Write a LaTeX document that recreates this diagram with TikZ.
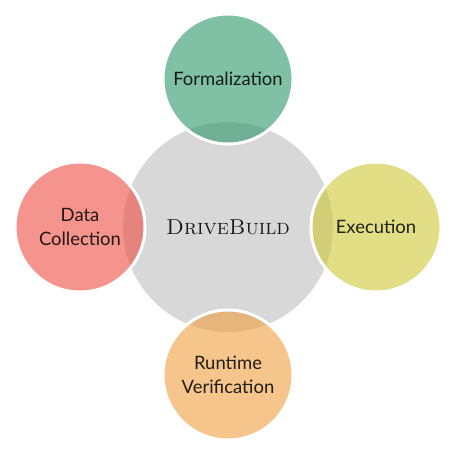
\documentclass[tikz,border=0pt]{standalone}
\usepackage{fontspec}
\newfontfamily\bubblefont{Lato}
\usetikzlibrary{positioning}
\definecolor{hubgray}{RGB}{216,216,216}
\definecolor{formgreen}{RGB}{43,150,105}
\definecolor{execyellow}{RGB}{207,200,53}
\definecolor{verorange}{RGB}{238,158,62}
\definecolor{datared}{RGB}{238,77,63}
\tikzstyle{hub} = [circle, minimum size=4.2cm, fill=hubgray, text=black!90, font=\fontsize{12.3}{15}\selectfont]
\tikzstyle{bubble} = [circle, minimum size=2.6cm, draw=white, line width=1.7pt, fill opacity=0.6, text opacity=0.85, text=black, align=center, font=\bubblefont\fontsize{10.5}{13.5}\selectfont]

\begin{document}
\begin{tikzpicture}[node distance=2.96cm]
\useasboundingbox (-4.56,-4.56) rectangle (4.46,4.54);
\node (drive) [hub] {\textsc{DriveBuild}};
\node (form) [bubble, fill=formgreen, above of=drive] {Formalization};
\node (exec) [bubble, fill=execyellow, right of=drive] {Execution};
\node (verif) [bubble, fill=verorange, below of=drive] {Runtime\\Verification};
\node (data) [bubble, fill=datared, left of=drive] {Data\\Collection};
\end{tikzpicture}
\end{document}
